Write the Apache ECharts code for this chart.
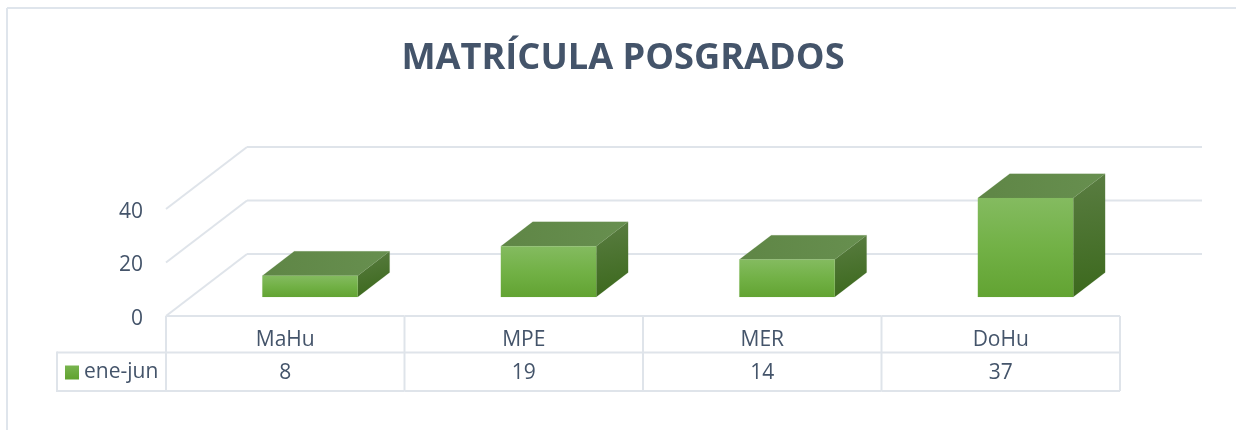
<!DOCTYPE html>
<html><head><meta charset="utf-8">
<style>html,body{margin:0;padding:0;background:#fff}#c{width:1236px;height:430px}</style>
<script src="https://cdn.jsdelivr.net/npm/echarts@6/dist/echarts.min.js"></script>
</head><body><div id="c"></div>
<script>
var titleText = 'MATRÍCULA POSGRADOS';
var seriesName = 'ene-jun';
var categories = ['MaHu', 'MPE', 'MER', 'DoHu'];
var values = [8, 19, 14, 37];
var yTicks = [0, 20, 40];

var FONT = '"Open Sans", sans-serif';
var INK = '#44546a', RULE = '#dfe4ea';
var DX = 81, DY = -62, BACK_RIGHT = 1202;
var NEAR = 0.306, FAR = 0.70, BAR_W = 0.4;
var ROW1 = 36.5, ROW2 = 75, HEAD_X = 57;

function vg(stops, x2, y2) {
  return new echarts.graphic.LinearGradient(0, 0, x2, y2, stops.map(function (c, i) {
    return { offset: i / (stops.length - 1), color: c };
  }));
}
var frontFill = vg(['#84bb60', '#72b146', '#62a332'], 0, 1);
var topFill = vg(['#5f8646', '#678f4f'], 1, 0);
var sideFill = vg(['#5a7d42', '#3c691d'], 0.4, 1);
var keyFill = vg(['#78b44f', '#60a22e'], 0, 1);

function line(x1, y1, x2, y2) {
  return { type: 'line', shape: { x1: x1, y1: y1, x2: x2, y2: y2 },
    style: { stroke: RULE, lineWidth: 2, fill: null } };
}
function poly(points, fill) {
  return { type: 'polygon', shape: { points: points },
    style: { fill: fill, stroke: fill, lineWidth: 0.1 } };
}

var chart = echarts.init(document.getElementById('c'), null, { renderer: 'canvas' });
chart.setOption({
  animation: false,
  backgroundColor: '#fff',
  title: { text: titleText, left: 618, top: 36, textAlign: 'center',
    textStyle: { fontFamily: FONT, fontSize: 36.2, fontWeight: 'bold', color: INK } },
  legend: { left: 65, top: 362, padding: 0, itemWidth: 14, itemHeight: 14, icon: 'rect',
    data: [{ name: seriesName, itemStyle: { color: keyFill } }],
    textStyle: { fontFamily: FONT, fontSize: 21, color: INK } },
  grid: { left: 166, right: 116, top: 209, bottom: 114 },
  xAxis: { type: 'category', data: categories,
    axisLine: { show: false }, axisTick: { show: false }, splitLine: { show: false },
    axisLabel: { fontFamily: FONT, fontSize: 21, color: INK, margin: 14 } },
  yAxis: { type: 'value', min: 0, max: 40, interval: 20,
    axisLine: { show: false }, axisTick: { show: false }, splitLine: { show: false },
    axisLabel: { margin: 23, formatter: '{t|{value}}',
      rich: { t: { fontFamily: FONT, fontSize: 21, color: INK, padding: [6, 0, 0, 0] } } } },
  series: [
    { type: 'custom', name: 'walls', silent: true, z: 1, clip: false,
      data: yTicks.map(function (v) { return [0, v]; }),
      renderItem: function (p, api) {
        var c = api.coord([0, api.value(1)]);
        var x0 = c[0] - api.size([1, 0])[0] / 2, y0 = c[1];
        return { type: 'group', children: [
          line(x0, y0, x0 + DX, y0 + DY),
          line(x0 + DX, y0 + DY, BACK_RIGHT, y0 + DY)
        ] };
      } },
    { type: 'custom', name: 'table', silent: true, z: 2, clip: false,
      data: categories.map(function (n, i) { return [i, 0, values[i]]; }),
      renderItem: function (p, api) {
        var i = api.value(0), c = api.coord([i, 0]), w = api.size([1, 0])[0];
        var L = c[0] - w / 2, R = c[0] + w / 2, y = c[1];
        var kids = [
          line(L, y, R, y),
          line(L, y + ROW1, R, y + ROW1),
          line(L, y + ROW2, R, y + ROW2),
          line(R, y, R, y + ROW2),
          { type: 'text', style: { text: String(api.value(2)), x: c[0], y: y + 57,
            align: 'center', verticalAlign: 'middle',
            fontFamily: FONT, fontSize: 21, fill: INK } }
        ];
        if (i === 0) {
          kids.push(line(L, y, L, y + ROW2));
          kids.push(line(HEAD_X, y + ROW1, L, y + ROW1));
          kids.push(line(HEAD_X, y + ROW2, L, y + ROW2));
          kids.push(line(HEAD_X, y + ROW1 - 1, HEAD_X, y + ROW2 + 1));
        }
        return { type: 'group', children: kids };
      } },
    { type: 'custom', name: seriesName, silent: true, z: 3, clip: false,
      itemStyle: { color: keyFill },
      data: categories.map(function (n, i) { return [i, values[i]]; }),
      renderItem: function (p, api) {
        var i = api.value(0), c0 = api.coord([i, 0]), c1 = api.coord([i, api.value(1)]);
        var bw = api.size([1, 0])[0] * BAR_W;
        var nx = DX * NEAR, ny = DY * NEAR, fx = DX * FAR, fy = DY * FAR;
        var l = c0[0] + nx - bw / 2, r = l + bw, b = c0[1] + ny, t = c1[1] + ny;
        var ddx = fx - nx, ddy = fy - ny;
        return { type: 'group', children: [
          poly([[r, b], [r + ddx, b + ddy], [r + ddx, t + ddy], [r, t]], sideFill),
          poly([[l, t], [r, t], [r + ddx, t + ddy], [l + ddx, t + ddy]], topFill),
          poly([[l, b], [r, b], [r, t], [l, t]], frontFill)
        ] };
      } }
  ],
  graphic: [
    { type: 'line', silent: true, shape: { x1: 7, y1: 8, x2: 1236, y2: 8 }, style: { stroke: '#dfe5ec', lineWidth: 2 } },
    { type: 'line', silent: true, shape: { x1: 7, y1: 8, x2: 7, y2: 430 }, style: { stroke: '#dfe5ec', lineWidth: 2 } }
  ]
});
</script></body></html>
